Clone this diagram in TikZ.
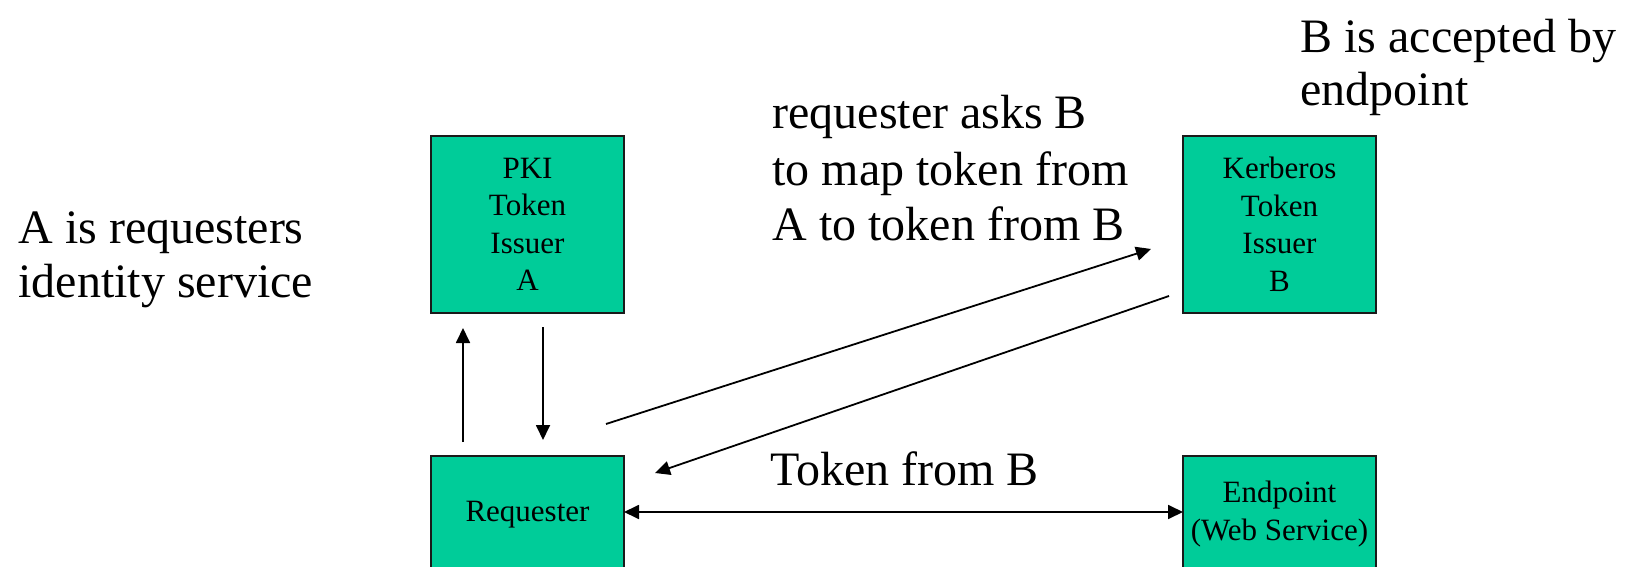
\documentclass[tikz,border=0pt]{standalone}
\usepackage{fontspec}
\setmainfont{Liberation Serif}
\usetikzlibrary{arrows.meta,calc}

\definecolor{boxfill}{HTML}{00CC99}
\definecolor{boxline}{HTML}{1A1A1A}

\tikzset{
  tokenbox/.style={draw=boxline, line width=1.1pt, fill=boxfill,
    minimum width=96.5pt, inner sep=0pt, outer sep=0pt, align=center,
    font=\fontsize{15.5}{18.75}\selectfont},
  % multi-line notes: the base anchor sits on the last line's baseline
  note/.style={anchor=base west, inner sep=0pt, align=left,
    font=\fontsize{24}{27}\selectfont},
  flow/.style={line width=0.9pt, -{Triangle[length=7.5pt,width=7pt]}},
  twoway/.style={line width=0.9pt, {Triangle[length=7.5pt,width=7pt]}-{Triangle[length=7.5pt,width=7pt]}}
}

\begin{document}
\begin{tikzpicture}[x=0.5pt, y=-0.5pt]
  \useasboundingbox (0,0) rectangle (1629,567);
  \fill[white] (0,0) rectangle (1629,567);
  \clip (0,0) rectangle (1629,567);

  % token issuers and parties
  \node[tokenbox, minimum height=88.5pt] (pki) at (527.5,224.5) {PKI\\Token\\Issuer\\A};
  \node[tokenbox, minimum height=88.5pt] (krb) at (1279.5,224.5) {Kerberos\\Token\\Issuer\\B};
  \node[tokenbox, minimum height=59pt] (req) at (527.5,515) {Requester};
  \node[tokenbox, minimum height=58pt] (ep) at (1279.5,514) {Endpoint\\(Web Service)};

  % explanatory notes
  \node[note] (nA) at (18,297) {A is requesters\\identity service};
  \node[note, font=\fontsize{24}{28}\selectfont] (nMap) at (772,241) {requester asks B\\to map token from\\A to token from B};
  \node[note] (nB) at (1300,106) {B is accepted by\\endpoint};
  \node[note] (nTok) at (770,485) {Token from B};

  % connector end points
  \coordinate (upS) at ($(req.north west)+(32,-14)$);
  \coordinate (upE) at ($(pki.south west)+(32,15)$);
  \coordinate (dnS) at ($(pki.south west)+(112,14)$);
  \coordinate (dnE) at ($(req.north west)+(112,-16)$);
  \coordinate (askS) at ($(req.north east)+(-18,-32)$);
  \coordinate (askE) at ($(krb.south west)+(-32,-64)$);
  \coordinate (retS) at ($(krb.south west)+(-14,-17)$);
  \coordinate (retE) at ($(req.north east)+(31,17)$);

  % message flows
  \draw[flow] (upS) -- (upE);
  \draw[flow] (dnS) -- (dnE);
  \draw[flow] (askS) -- (askE);
  \draw[flow] (retS) -- (retE);
  \draw[twoway] ($(req.north east)+(0,56)$) -- ($(ep.north west)+(0,56)$);
\end{tikzpicture}
\end{document}
